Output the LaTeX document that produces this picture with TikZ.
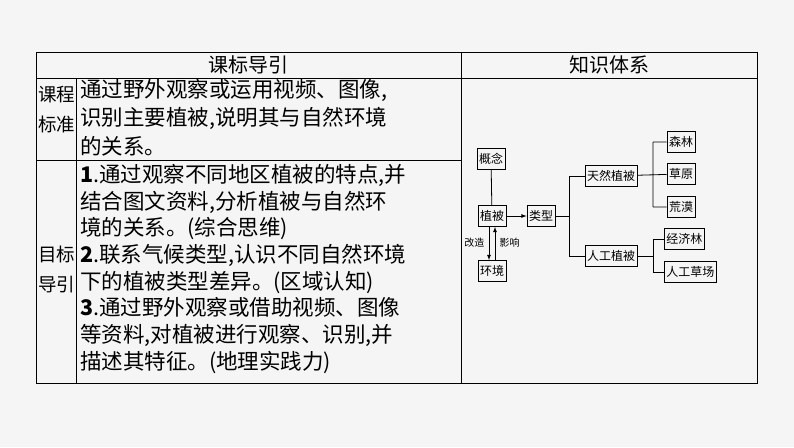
\documentclass[tikz,border=0pt]{standalone}
\usepackage{fontspec}
\setmainfont{Liberation Serif}
\newfontfamily\cjk{Noto Sans CJK SC}
\begin{document}
\begin{tikzpicture}[x=1pt,y=-1pt,
  txt/.style={font=\cjk\fontsize{21.5}{28.5}\selectfont,inner sep=0pt,align=left,anchor=north west},
  bx/.style={draw,font=\cjk\fontsize{12}{14}\selectfont,inner sep=2pt,minimum height=21pt,line width=0.8pt},
  ln/.style={line width=0.8pt}]
\fill[gray!8] (0,0) rectangle (794,447);
\useasboundingbox (0,0) rectangle (794,447);
\draw[line width=0.8pt] (36,52) rectangle (757,383);
\draw[ln] (36,78) -- (757,78) (461,52) -- (461,383) (76,78) -- (76,383) (36,160) -- (461,160);
\node[font=\cjk\fontsize{20}{24}\selectfont] (h1) at (248,65) {课标导引};
\node[font=\cjk\fontsize{20}{24}\selectfont] (h2) at (609,65) {知识体系};
\node[txt,font=\cjk\fontsize{18.5}{30}\selectfont] (a) at (38,86) {课程\\标准};
\node[txt,font=\cjk\fontsize{18.5}{30}\selectfont] (b) at (38,246) {目标\\导引};
\node[txt] (c) at (80,79) {通过野外观察或运用视频、图像,\\识别主要植被,说明其与自然环境\\的关系。};
\node[txt,font=\cjk\fontsize{21.5}{26.7}\selectfont] (d) at (80,164) {\textbf{1}.通过观察不同地区植被的特点,并\\结合图文资料,分析植被与自然环\\境的关系。(综合思维)\\\textbf{2}.联系气候类型,认识不同自然环境\\下的植被类型差异。(区域认知)\\\textbf{3}.通过野外观察或借助视频、图像\\等资料,对植被进行观察、识别,并\\描述其特征。(地理实践力)};
\node[bx] (gn) at (491,159) {概念};
\node[bx] (zb) at (492,216) {植被};
\node[bx] (hj) at (492,271) {环境};
\node[bx] (lx) at (541,216) {类型};
\node[bx] (tr) at (611,176) {天然植被};
\node[bx] (rg) at (611,256) {人工植被};
\node[bx] (sl) at (681,142) {森林};
\node[bx] (cy) at (681,174) {草原};
\node[bx] (hm) at (681,207) {荒漠};
\node[bx,anchor=west] (jj) at (664,239) {经济林};
\node[bx,anchor=west] (rc) at (664,272) {人工草场};
\draw[ln] (gn) -- (zb);
\draw[ln,-latex] (zb) -- (lx);
\draw[ln,-latex] ([xshift=-3pt]zb.south) -- ([xshift=-3pt]hj.north);
\draw[ln,-latex] ([xshift=3pt]hj.north) -- ([xshift=3pt]zb.south);
\node[font=\cjk\fontsize{10}{12}\selectfont,anchor=east] (gz) at (488,243) {改造};
\node[font=\cjk\fontsize{10}{12}\selectfont,anchor=west] (yx) at (496,243) {影响};
\coordinate (m1) at (569,216);
\draw[ln] (lx) -- (m1) (m1 |- tr) -- (m1 |- rg) (m1 |- tr) -- (tr) (m1 |- rg) -- (rg);
\coordinate (m2) at (653,174);
\draw[ln] (tr) -- (cy) (m2 |- sl) -- (m2 |- hm) (m2 |- sl) -- (sl) (m2 |- hm) -- (hm);
\coordinate (m3) at (653,256);
\draw[ln] (rg) -- (m3) (m3 |- jj) -- (m3 |- rc) (m3 |- jj) -- (jj) (m3 |- rc) -- (rc);
\end{tikzpicture}
\end{document}
